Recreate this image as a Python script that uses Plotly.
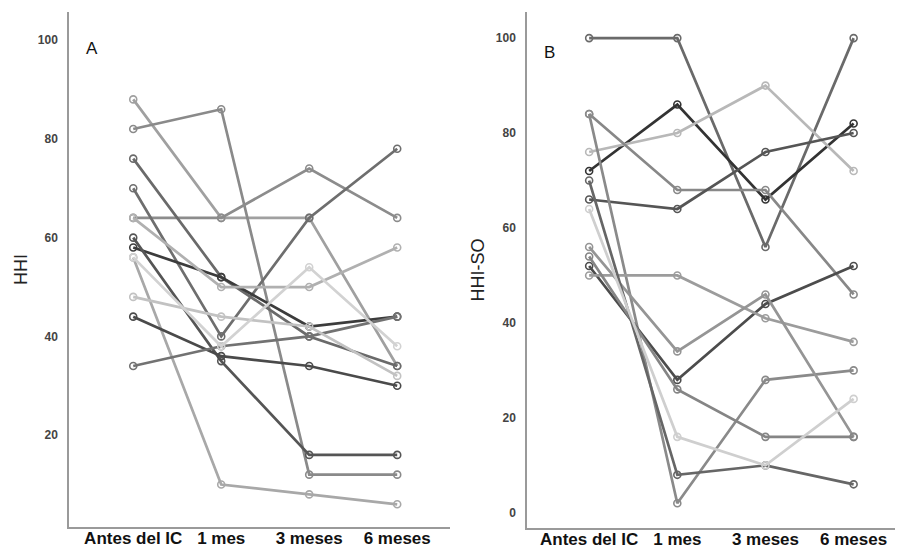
import plotly.graph_objects as go

# ---------------- data ----------------
categories = ["Antes del IC", "1 mes", "3 meses", "6 meses"]
hhi_ticks = [20, 40, 60, 80, 100]
hhi_so_ticks = [0, 20, 40, 60, 80, 100]

# Panel A: HHI per patient (Antes del IC, 1 mes, 3 meses, 6 meses)
hhi_p01 = [88, 64, 64, 34]
hhi_p02 = [82, 86, 12, 12]
hhi_p03 = [64, 64, 74, 64]
hhi_p04 = [70, 40, 64, 78]
hhi_p05 = [76, 52, 40, 34]
hhi_p06 = [58, 52, 42, 44]
hhi_p07 = [60, 35, 16, 16]
hhi_p08 = [56, 10, 8, 6]
hhi_p09 = [44, 36, 34, 30]
hhi_p10 = [34, 38, 40, 44]
hhi_p11 = [48, 44, 42, 32]
hhi_p12 = [64, 50, 50, 58]
hhi_p13 = [56, 38, 54, 38]

# Panel B: HHI-SO per patient
so_p01 = [100, 100, 56, 100]
so_p02 = [72, 86, 66, 82]
so_p03 = [76, 80, 90, 72]
so_p04 = [84, 68, 68, 46]
so_p05 = [66, 64, 76, 80]
so_p06 = [84, 2, 28, 30]
so_p07 = [52, 28, 44, 52]
so_p08 = [50, 50, 41, 36]
so_p09 = [56, 34, 46, 16]
so_p10 = [54, 26, 16, 16]
so_p11 = [70, 8, 10, 6]
so_p12 = [64, 16, 10, 24]

hhi_series = [hhi_p01, hhi_p02, hhi_p03, hhi_p04, hhi_p05, hhi_p06, hhi_p07,
              hhi_p08, hhi_p09, hhi_p10, hhi_p11, hhi_p12, hhi_p13]
so_series = [so_p01, so_p02, so_p03, so_p04, so_p05, so_p06, so_p07,
             so_p08, so_p09, so_p10, so_p11, so_p12]

# ---------------- styles ----------------
hhi_colors = ["#a0a0a0", "#8a8a8a", "#8c8c8c", "#6e6e6e", "#6a6a6a", "#3c3c3c",
              "#555555", "#a8a8a8", "#4a4a4a", "#727272", "#c2c2c2", "#b0b0b0", "#d2d2d2"]
so_colors = ["#6a6a6a", "#333333", "#b8b8b8", "#888888", "#555555", "#8a8a8a",
             "#4c4c4c", "#9c9c9c", "#959595", "#858585", "#666666", "#cfcfcf"]

fig = go.Figure()


def add_lines(series, colors, xa, ya):
    for vals, col in zip(series, colors):
        fig.add_trace(go.Scatter(
            x=categories, y=vals, mode="lines+markers",
            xaxis=xa, yaxis=ya,
            line=dict(color=col, width=2.7),
            marker=dict(symbol="circle-open", size=7, color=col, line=dict(width=1.6)),
            showlegend=False, hoverinfo="skip"))


add_lines(hhi_series, hhi_colors, "x", "y")
add_lines(so_series, so_colors, "x2", "y2")

# page body has an 8px default margin; size the figure to fill the rest
OFF = 8
W, H = 903 - OFF, 552 - OFF


def px_x(p):
    return (p - OFF) / W


def px_y(p):
    return 1 - (p - OFF) / H


FAM = "Liberation Sans, Arial, sans-serif"
axis_line = dict(showline=True, linecolor="#9a9a9a", linewidth=1.5,
                 showgrid=False, zeroline=False, ticks="")
xfont = dict(family=FAM, size=17, color="#111111", weight="bold")
yfont = dict(family=FAM, size=12, color="#444444", weight="bold")
tfont = dict(family=FAM, size=18, color="#222222")

fig.update_layout(
    width=W, height=H,
    margin=dict(l=0, r=0, t=0, b=0),
    paper_bgcolor="white", plot_bgcolor="white",
    xaxis=dict(domain=[px_x(69), px_x(450)], range=[-0.73, 3.6], anchor="y",
               type="category", tickfont=xfont, ticklabelstandoff=-5, **axis_line),
    yaxis=dict(domain=[px_y(527), px_y(12)], range=[1.4, 105.7], anchor="x",
               tickvals=hhi_ticks, tickfont=yfont, ticklabelstandoff=7,
               title=dict(text="HHI", font=tfont, standoff=6), **axis_line),
    xaxis2=dict(domain=[px_x(527), 1.0], range=[-0.705, 3.56], anchor="y2",
                type="category", tickfont=xfont, ticklabelstandoff=-5, **axis_line),
    yaxis2=dict(domain=[px_y(528), px_y(12)], range=[-3.2, 105.5], anchor="x2",
                tickvals=hhi_so_ticks, tickfont=yfont, ticklabelstandoff=7,
                title=dict(text="HHI-SO", font=tfont, standoff=7), **axis_line),
    annotations=[
        dict(text="A", xref="x domain", yref="y domain", x=0.06, y=0.93,
             xanchor="center", yanchor="middle",
             showarrow=False, font=dict(family=FAM, size=17, color="#111")),
        dict(text="B", xref="x2 domain", yref="y2 domain", x=0.061, y=0.922,
             xanchor="center", yanchor="middle",
             showarrow=False, font=dict(family=FAM, size=17, color="#111")),
    ],
)

fig.write_html("out.html")
